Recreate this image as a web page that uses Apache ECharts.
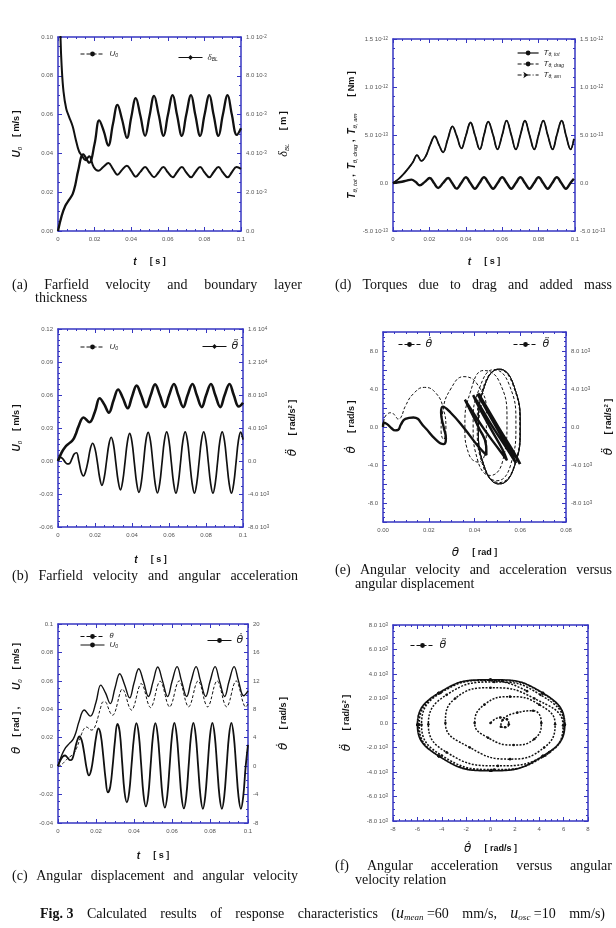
<!DOCTYPE html>
<html>
<head>
<meta charset="utf-8">
<script src="https://cdn.jsdelivr.net/npm/echarts@6/dist/echarts.min.js"></script>
<style>
  html, body { margin: 0; padding: 0; background: #fff; }
  #main { width: 616px; height: 928px; }
</style>
</head>
<body>
<div id="main"></div>
<script>
// 时间网格 (s)，θ、θ̇、θ̈ 共用
const tGrid = [
  0, 0.00125, 0.0025, 0.00375, 0.005, 0.00625, 0.0075, 0.00875, 0.01, 0.01125,
  0.0125, 0.01375, 0.015, 0.01625, 0.0175, 0.01875, 0.02, 0.02125, 0.0225, 0.02375,
  0.025, 0.02625, 0.0275, 0.02875, 0.03, 0.03125, 0.0325, 0.03375, 0.035, 0.03625,
  0.0375, 0.03875, 0.04, 0.04125, 0.0425, 0.04375, 0.045, 0.04625, 0.0475, 0.04875,
  0.05, 0.05125, 0.0525, 0.05375, 0.055, 0.05625, 0.0575, 0.05875, 0.06, 0.06125,
  0.0625, 0.06375, 0.065, 0.06625, 0.0675, 0.06875, 0.07, 0.07125, 0.0725, 0.07375,
  0.075, 0.07625, 0.0775, 0.07875, 0.08, 0.08125, 0.0825, 0.08375, 0.085, 0.08625,
  0.0875, 0.08875, 0.09, 0.09125, 0.0925, 0.09375, 0.095, 0.09625, 0.0975, 0.09875,
  0.1
];
// θ [rad]
const theta = [
  0, 0.0005, 0.0018, 0.0036, 0.0053, 0.0066, 0.0078, 0.0098, 0.0133, 0.0181,
  0.0230, 0.0264, 0.0275, 0.0265, 0.0254, 0.0261, 0.0296, 0.0354, 0.0415, 0.0452,
  0.0451, 0.0417, 0.0376, 0.0358, 0.0381, 0.0441, 0.0508, 0.0542, 0.0523, 0.0469,
  0.0415, 0.0394, 0.0422, 0.0485, 0.0551, 0.0581, 0.0558, 0.0498, 0.0437, 0.0412,
  0.0440, 0.0505, 0.0570, 0.0598, 0.0572, 0.0508, 0.0444, 0.0417, 0.0444, 0.0508,
  0.0573, 0.0600, 0.0573, 0.0508, 0.0444, 0.0417, 0.0444, 0.0508, 0.0573, 0.0600,
  0.0573, 0.0508, 0.0444, 0.0417, 0.0444, 0.0508, 0.0573, 0.0600, 0.0573, 0.0508,
  0.0444, 0.0417, 0.0444, 0.0508, 0.0573, 0.0600, 0.0573, 0.0508, 0.0444, 0.0417,
  0.0437
];
// θ̇ [rad/s]
const thetaDot = [
  0, 0.8, 1.35, 1.5, 1.2, 0.85, 1.0, 2.2, 3.5, 4.17,
  3.6, 1.9, -0.2, -1.3, -0.5, 1.6, 4.0, 5.3, 4.4, 1.6,
  -1.7, -3.7, -2.9, 0.0, 3.6, 5.95, 4.8, 0.6, -3.6, -5.1,
  -3.6, 0.3, 4.1, 6.04, 4.5, 0.3, -4.0, -5.66, -4.1, 0.1,
  4.3, 6.05, 4.3, 0.1, -4.2, -5.85, -4.2, 0.0, 4.3, 6.08,
  4.3, 0.05, -4.25, -5.95, -4.25, 0.0, 4.3, 6.1, 4.3, 0.0,
  -4.25, -6.0, -4.25, 0.0, 4.3, 6.1, 4.3, 0.0, -4.25, -6.0,
  -4.25, 0.0, 4.3, 6.1, 4.3, 0.0, -4.25, -6.0, -4.25, -0.1,
  3.0
];
// θ̈ [rad/s²]
const thetaDDot = [
  0, 450, 300, -100, -350, -300, 250, 850, 1000, 0,
  -1300, -1800, -1200, 0, 1500, 2150, 1500, -100, -2000, -2950,
  -2000, 0, 2000, 2880, 2000, -200, -2400, -3500, -2400, -100,
  2300, 3350, 2300, -200, -2650, -3800, -2650, -150, 2450, 3480,
  2400, -150, -2700, -3880, -2700, -150, 2450, 3520, 2450, -150,
  -2700, -3900, -2700, -150, 2450, 3530, 2450, -150, -2700, -3900,
  -2700, -150, 2450, 3530, 2450, -150, -2700, -3900, -2700, -150,
  2450, 3530, 2450, -150, -2700, -3900, -2700, -150, 2450, 3500,
  2600
];
// 远场速度 U0 [m/s]
const u0T = [0, 0.002, 0.004, 0.006, 0.008, 0.0095, 0.011, 0.0138, 0.017, 0.020, 0.0225, 0.025, 0.0275, 0.030,
  0.0325, 0.035, 0.0377, 0.040, 0.0425, 0.045, 0.0476, 0.050, 0.0525, 0.055, 0.0577, 0.060, 0.0627, 0.065,
  0.0677, 0.070, 0.0727, 0.075, 0.0777, 0.080, 0.0827, 0.085, 0.0877, 0.090, 0.0927, 0.095, 0.0977, 0.1];
const u0V = [0, 0.0078, 0.013, 0.016, 0.019, 0.024, 0.031, 0.0395, 0.0352, 0.045, 0.057, 0.0515, 0.044, 0.055,
  0.065, 0.0575, 0.048, 0.0585, 0.0685, 0.0595, 0.049, 0.0593, 0.0697, 0.06, 0.049, 0.0595, 0.070, 0.06,
  0.049, 0.0595, 0.070, 0.06, 0.049, 0.0595, 0.070, 0.06, 0.049, 0.0595, 0.070, 0.06, 0.0495, 0.053];
// 边界层厚度 δBL [m]
const dT = [0.0009, 0.0014, 0.002, 0.003, 0.0045, 0.006, 0.008, 0.0095, 0.0115, 0.013, 0.015, 0.017, 0.0195,
  0.022, 0.0247, 0.0276, 0.030, 0.0325, 0.035, 0.0376, 0.040, 0.0425, 0.045, 0.0476, 0.050, 0.0525, 0.055,
  0.0576, 0.060, 0.0627, 0.065, 0.0677, 0.070, 0.0727, 0.075, 0.0777, 0.080, 0.0827, 0.085, 0.0877, 0.090,
  0.0927, 0.095, 0.0976, 0.1];
const dV = [0.0125, 0.0099, 0.0085, 0.0072, 0.0063, 0.0059, 0.0054, 0.0048, 0.0041, 0.0039, 0.00365, 0.00385, 0.0033,
  0.0031, 0.0033, 0.0035, 0.0032, 0.0029, 0.00315, 0.00336, 0.0031, 0.0028, 0.00305, 0.0033, 0.00303, 0.00277, 0.00303,
  0.0033, 0.00303, 0.00277, 0.00303, 0.0033, 0.00303, 0.00277, 0.00303, 0.0033, 0.00303, 0.00277, 0.00303, 0.0033, 0.00303,
  0.00277, 0.00303, 0.0033, 0.0032];
// 力矩 [Nm]
const tqT = [0, 0.0028, 0.0055, 0.0083, 0.011, 0.0132, 0.0156, 0.018, 0.0205, 0.0229, 0.0252, 0.0275, 0.030,
  0.0327, 0.035, 0.0376, 0.040, 0.0426, 0.045, 0.0477, 0.050, 0.0523, 0.055, 0.0574, 0.060, 0.0624, 0.065,
  0.0675, 0.070, 0.0725, 0.075, 0.0776, 0.080, 0.0826, 0.085, 0.0877, 0.090, 0.0927, 0.095, 0.0976, 0.0994];
const tqTot = [0, 0.38e-13, 0.87e-13, 1.5e-13, 2.2e-13, 2.9e-13, 2.3e-13, 2.8e-13, 4.0e-13, 4.87e-13, 4.0e-13, 3.2e-13, 4.5e-13,
  5.9e-13, 4.9e-13, 3.6e-13, 4.9e-13, 6.3e-13, 5.0e-13, 3.5e-13, 5.0e-13, 6.4e-13, 5.0e-13, 3.5e-13, 5.0e-13, 6.5e-13, 5.0e-13,
  3.5e-13, 5.0e-13, 6.5e-13, 5.0e-13, 3.5e-13, 5.0e-13, 6.5e-13, 5.0e-13, 3.5e-13, 5.0e-13, 6.5e-13, 5.0e-13, 3.5e-13, 4.6e-13];
const amT = [0, 0.004, 0.0075, 0.0101, 0.0125, 0.0147, 0.0175, 0.0202, 0.0225, 0.0248, 0.0275, 0.0303, 0.0325,
  0.0349, 0.0375, 0.040, 0.0425, 0.045, 0.0475, 0.050, 0.0525, 0.055, 0.0575, 0.060, 0.0625, 0.065, 0.0675,
  0.070, 0.0725, 0.075, 0.0775, 0.080, 0.0825, 0.085, 0.0875, 0.090, 0.0925, 0.095, 0.0975, 0.0994];
const amV = [0, 0.1e-13, 0.25e-13, 0.35e-13, 0.1e-13, -0.24e-13, 0.12e-13, 0.52e-13, 0, -0.52e-13,
  0, 0.52e-13, 0, -0.59e-13, 0, 0.6e-13, 0, -0.6e-13, 0, 0.6e-13,
  0, -0.6e-13, 0, 0.6e-13, 0, -0.6e-13, 0, 0.6e-13, 0, -0.6e-13,
  0, 0.6e-13, 0, -0.6e-13, 0, 0.6e-13, 0, -0.6e-13, 0, 0.45e-13];

const BLUE = '#3636c2';
const GRAY = '#555';
const INK = '#111';
const GREEK = '"DejaVu Sans"';

const zip = (xs, ys) => xs.map((x, i) => [x, ys[i]]);

// 科学计数标签 "1.0 10^-2"
function sci(v) {
  if (Math.abs(v) < 1e-20) return '{m|0.0}';
  const p = v.toExponential(1).split('e');
  return '{m|' + p[0] + ' 10}{e|' + p[1].replace('+', '') + '}';
}
const fT = v => v === 0 ? '0' : String(parseFloat(v.toFixed(3)));
const f2 = v => v.toFixed(2);
const fInt = v => String(Math.round(v));
const fE = v => Math.round(v) % 4 === 0 ? v.toFixed(1) : '';
const fEsci = v => Math.round(v / 1000) % 4 === 0 ? sci(v) : '';

const TICK_RICH = {
  m: { fontSize: 6, color: GRAY, fontFamily: 'Liberation Sans' },
  e: { fontSize: 4.5, color: GRAY, fontFamily: 'Liberation Sans', verticalAlign: 'top' }
};
const NAME_RICH = {
  it: { fontFamily: 'Liberation Sans', fontStyle: 'italic', fontWeight: 'bold', fontSize: 10, color: INK },
  bd: { fontFamily: 'Liberation Sans', fontWeight: 'bold', fontSize: 9, color: INK },
  sb: { fontFamily: 'Liberation Sans', fontStyle: 'italic', fontSize: 6, color: INK, verticalAlign: 'bottom' },
  sp: { fontFamily: 'Liberation Sans', fontWeight: 'bold', fontSize: 6, color: INK, verticalAlign: 'top' },
  gb: { fontFamily: GREEK, fontStyle: 'italic', fontSize: 12, color: INK },
  dl: { fontFamily: 'Liberation Serif', fontStyle: 'italic', fontSize: 12, color: INK },
  pd: { width: 50 }
};
const LEG_RICH = {
  it: { fontFamily: 'Liberation Sans', fontStyle: 'italic', fontSize: 8, color: '#222' },
  sb: { fontFamily: 'Liberation Sans', fontStyle: 'italic', fontSize: 5, color: '#222', verticalAlign: 'bottom' },
  gi: { fontFamily: 'Liberation Serif', fontStyle: 'italic', fontSize: 9, color: '#222' },
  gs: { fontFamily: GREEK, fontStyle: 'italic', fontSize: 7, color: '#222' },
  gl: { fontFamily: GREEK, fontStyle: 'italic', fontSize: 11, color: '#222' }
};

const NAME_T = '{it|t}    {bd|[ s ]}';
const NAME_U0 = '{it|U}{sb|0}   {bd|[ m/s ]}';
const NAME_DBL = '{dl|δ}{sb|BL}    {bd|[ m ]}';
const NAME_TQ = '{it|T}{sb|θ, tot}{bd| ,  }{it|T}{sb|θ, drag}{bd| ,  }{it|T}{sb|θ, am}     {bd|[ Nm ]}';
const NAME_THDD = '{gb|θ̈}    {bd|[ rad/s}{sp|2}{bd| ]}';
const NAME_THD = '{gb|θ̇}    {bd|[ rad/s ]}';
const NAME_TH = '{gb|θ}    {bd|[ rad ]}';
const NAME_C = '{pd|}{gb|θ}   {bd|[ rad ] ,}     {it|U}{sb|0}   {bd|[ m/s ]}';

function mkAxis(grid, pos, min, max, step, minor, fmt, name, gap) {
  const a = {
    type: 'value', gridIndex: grid, position: pos, min: min, max: max, interval: step,
    axisLine: { show: true, onZero: false, lineStyle: { color: BLUE, width: 1.5 } },
    axisTick: { show: true, inside: true, length: 4, lineStyle: { color: BLUE, width: 1 } },
    minorTick: { show: true, splitNumber: minor, length: 2, lineStyle: { color: BLUE, width: 1 } },
    splitLine: { show: false },
    axisLabel: fmt ? { show: true, formatter: fmt, color: GRAY, fontSize: 6, margin: 5, rich: TICK_RICH } : { show: false }
  };
  if (name) {
    a.name = name;
    a.nameLocation = 'middle';
    a.nameGap = gap;
    a.nameTextStyle = { color: INK, rich: NAME_RICH };
    if (pos === 'left' || pos === 'right') a.nameRotate = 90;
  }
  return a;
}

const LEG_TEXT = {
  aU0: '{it|U}{sb|0}', aD: '{gi|δ}{sb|BL}',
  dTot: '{it|T}{sb|θ, tot}', dDrag: '{it|T}{sb|θ, drag}', dAm: '{it|T}{sb|θ, am}',
  bU0: '{it|U}{sb|0}', bA: '{gl|θ̈}',
  eV: '{gl|θ̇}', eA: '{gl|θ̈}',
  cT: '{gs|θ}', cU: '{it|U}{sb|0}', cV: '{gl|θ̇}',
  fA: '{gl|θ̈}'
};
function mkLegend(items, left, top, o) {
  return Object.assign({
    data: items, left: left, top: top, orient: 'horizontal', padding: 0, itemGap: 2,
    itemWidth: 24, itemHeight: 6, selectedMode: false,
    textStyle: { color: '#222', fontSize: 8, rich: LEG_RICH },
    formatter: n => LEG_TEXT[n]
  }, o || {});
}

function S(name, xi, yi, data, ls, extra) {
  return Object.assign({
    name: name, type: 'line', xAxisIndex: xi, yAxisIndex: yi, data: data,
    smooth: 0.4, showSymbol: false, symbol: 'none', symbolSize: 4, silent: true,
    lineStyle: Object.assign({ color: INK, width: 1 }, ls),
    itemStyle: { color: INK }
  }, extra || {});
}

// 图注：两端对齐
const CF = '14px "Liberation Serif"';
const CAP_FONTS = {
  r: CF,
  b: 'bold 14px "Liberation Serif"',
  i: 'italic 16px "Liberation Serif"',
  s: 'italic 9px "Liberation Serif"'
};
const CAP_RICH = {
  r: { font: CAP_FONTS.r, fill: INK },
  b: { font: CAP_FONTS.b, fill: INK },
  i: { font: CAP_FONTS.i, fill: INK },
  s: { font: CAP_FONTS.s, fill: INK, verticalAlign: 'bottom' }
};
const measureCtx = document.createElement('canvas').getContext('2d');
function textW(str, font) { measureCtx.font = font; return measureCtx.measureText(str).width; }
// words: 每个词是 [[样式, 文字], ...]
function justifyRich(words, x0, x1, y) {
  const ws = words.map(w => w.reduce((s, seg) => s + textW(seg[1], CAP_FONTS[seg[0]]), 0));
  const total = ws.reduce((s, w) => s + w, 0);
  const gap = words.length > 1 ? (x1 - x0 - total) / (words.length - 1) : 0;
  let x = x0;
  return words.map((w, i) => {
    const el = {
      type: 'text', x: x, y: y,
      style: { text: w.map(seg => '{' + seg[0] + '|' + seg[1] + '}').join(''), font: CF, fill: INK, verticalAlign: 'middle', rich: CAP_RICH }
    };
    x += ws[i] + gap;
    return el;
  });
}
function justify(text, x0, x1, y) {
  return justifyRich(text.split(' ').map(w => [['r', w]]), x0, x1, y);
}
function plain(text, x, y) {
  return { type: 'text', x: x, y: y, style: { text: text, font: CF, fill: INK, verticalAlign: 'middle' } };
}

const chart = echarts.init(document.getElementById('main'), null, { renderer: 'canvas' });
const option = {
  backgroundColor: '#fff',
  animation: false,
  textStyle: { fontFamily: 'Liberation Sans' },
  grid: [
    { left: 58, top: 37, width: 183, height: 194 },
    { left: 393, top: 39, width: 182, height: 192 },
    { left: 58, top: 329, width: 185, height: 198 },
    { left: 383, top: 332, width: 183, height: 190 },
    { left: 58, top: 624, width: 190, height: 199 },
    { left: 393, top: 625, width: 195, height: 196 }
  ].map(g => Object.assign({ outerBoundsMode: 'none', containLabel: false }, g)),
  xAxis: [
    mkAxis(0, 'bottom', 0, 0.1, 0.02, 4, fT, NAME_T, 25),
    mkAxis(0, 'top', 0, 0.1, 0.02, 4, null),
    mkAxis(1, 'bottom', 0, 0.1, 0.02, 4, fT, NAME_T, 25),
    mkAxis(1, 'top', 0, 0.1, 0.02, 4, null),
    mkAxis(2, 'bottom', 0, 0.1, 0.02, 4, fT, NAME_T, 27),
    mkAxis(2, 'top', 0, 0.1, 0.02, 4, null),
    mkAxis(3, 'bottom', 0, 0.08, 0.02, 4, f2, NAME_TH, 25),
    mkAxis(3, 'top', 0, 0.08, 0.02, 4, null),
    mkAxis(4, 'bottom', 0, 0.1, 0.02, 4, fT, NAME_T, 27),
    mkAxis(4, 'top', 0, 0.1, 0.02, 4, null),
    mkAxis(5, 'bottom', -8, 8, 2, 4, fInt, NAME_THD, 22),
    mkAxis(5, 'top', -8, 8, 2, 4, null)
  ],
  yAxis: [
    mkAxis(0, 'left', 0, 0.1, 0.02, 4, f2, NAME_U0, 35),
    mkAxis(0, 'right', 0, 0.01, 0.002, 4, sci, NAME_DBL, 37),
    mkAxis(1, 'left', -5e-13, 1.5e-12, 5e-13, 5, sci, NAME_TQ, 35),
    mkAxis(1, 'right', -5e-13, 1.5e-12, 5e-13, 5, sci),
    mkAxis(2, 'left', -0.06, 0.12, 0.03, 6, f2, NAME_U0, 35),
    mkAxis(2, 'right', -8000, 16000, 4000, 4, sci, NAME_THDD, 44),
    mkAxis(3, 'left', -10, 10, 2, 4, fE, NAME_THD, 25),
    mkAxis(3, 'right', -10000, 10000, 2000, 4, fEsci, NAME_THDD, 37),
    mkAxis(4, 'left', -0.04, 0.1, 0.02, 4, fT, NAME_C, 35),
    mkAxis(4, 'right', -8, 20, 4, 4, fInt, NAME_THD, 30),
    mkAxis(5, 'left', -8000, 8000, 2000, 4, sci, NAME_THDD, 40),
    mkAxis(5, 'right', -8000, 8000, 2000, 4, null)
  ],
  legend: [
    mkLegend([{ name: 'aU0', lineStyle: { type: 'dashed', width: 1 } }], 80, 50),
    mkLegend([{ name: 'aD', lineStyle: { width: 1 } }], 178, 53),
    mkLegend([
      { name: 'dTot', lineStyle: { width: 1.2 } },
      { name: 'dDrag', lineStyle: { width: 1, type: 'dashed' } },
      { name: 'dAm', lineStyle: { width: 1, type: [4, 2, 1, 2] } }
    ], 517, 49, { orient: 'vertical', itemGap: 3, itemWidth: 21 }),
    mkLegend([{ name: 'bU0', lineStyle: { type: 'dashed', width: 1 } }], 80, 343),
    mkLegend([{ name: 'bA', lineStyle: { width: 1 } }], 202, 341),
    mkLegend([{ name: 'eV', lineStyle: { width: 1, type: 'dashed' } }], 398, 339, { itemWidth: 22 }),
    mkLegend([{ name: 'eA', lineStyle: { width: 1, type: 'dashed' } }], 513, 339),
    mkLegend([
      { name: 'cT', lineStyle: { width: 1, type: 'dashed' } },
      { name: 'cU', lineStyle: { width: 1 } }
    ], 80, 633, { orient: 'vertical', itemGap: 1 }),
    mkLegend([{ name: 'cV', lineStyle: { width: 1 } }], 207, 635),
    mkLegend([{ name: 'fA', lineStyle: { width: 1, type: 'dashed' } }], 410, 640)
  ],
  series: [
    S('aU0', 0, 0, zip(u0T, u0V), { width: 2.3 }, { symbol: 'circle' }),
    S('aD', 0, 1, zip(dT, dV), { width: 2 }, { symbol: 'diamond', symbolSize: 5 }),
    S('dTot', 2, 2, zip(tqT, tqTot), { width: 1.8 }),
    S('dDrag', 2, 2, zip(tqT, tqTot), { width: 1.2, type: 'dashed' }),
    S('dAm', 2, 2, zip(amT, amV), { width: 2.4 }, { symbol: 'arrow', symbolSize: 5, symbolRotate: -90 }),
    S('bU0', 4, 4, zip(u0T, u0V), { width: 2.6 }, { symbol: 'circle' }),
    S('bA', 4, 5, zip(tGrid, thetaDDot), { width: 1.7 }, { symbol: 'diamond', symbolSize: 5 }),
    S('eV', 6, 6, zip(theta, thetaDot), { width: 1, type: [3, 2] }, { smooth: 0.5 }),
    S('eA', 6, 7, zip(theta, thetaDDot), { width: 2.4 }, { symbol: 'circle', smooth: 0.5 }),
    S('cT', 8, 8, zip(tGrid, theta), { width: 1, type: [3, 2] }),
    S('cU', 8, 8, zip(u0T, u0V), { width: 1.4 }, { symbol: 'circle', symbolSize: 2 }),
    S('cV', 8, 9, zip(tGrid, thetaDot), { width: 1.8 }, { symbol: 'circle' }),
    S('fA', 10, 10, zip(thetaDot, thetaDDot), { width: 1.5, type: [2, 1.5] },
      { symbol: 'circle', smooth: 0.5, showSymbol: true, symbolSize: 2.6 })
  ],
  graphic: [].concat(
    justify('(a) Farfield velocity and boundary layer', 12, 302, 285),
    [plain('thickness', 35, 298)],
    justify('(d) Torques due to drag and added mass', 335, 612, 285),
    justify('(b) Farfield velocity and angular acceleration', 12, 298, 576),
    justify('(e) Angular velocity and acceleration versus', 335, 612, 570),
    [plain('angular displacement', 355, 584)],
    justify('(c) Angular displacement and angular velocity', 12, 298, 876),
    justify('(f) Angular acceleration versus angular', 335, 612, 866),
    [plain('velocity relation', 355, 880)],
    justifyRich([
      [['b', 'Fig. 3']], [['r', 'Calculated']], [['r', 'results']], [['r', 'of']], [['r', 'response']],
      [['r', 'characteristics']], [['r', '('], ['i', 'u'], ['s', 'mean'], ['r', ' =60']], [['r', 'mm/s,']],
      [['i', 'u'], ['s', 'osc'], ['r', ' =10']], [['r', 'mm/s)']]
    ], 40, 605, 914)
  )
};
chart.setOption(option);
</script>
</body>
</html>
